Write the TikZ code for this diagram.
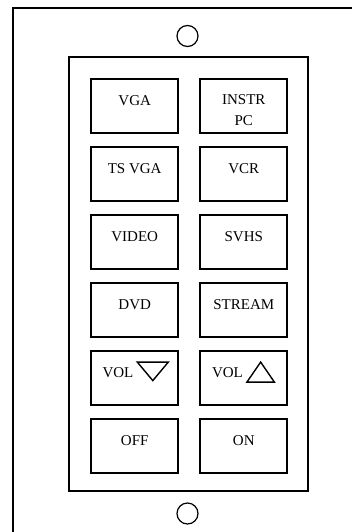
\documentclass[tikz,border=0pt]{standalone}
\usepackage{fontspec}
\setmainfont{Liberation Serif}
\begin{document}
\begin{tikzpicture}[x=1pt,y=-1pt,
  btn/.style={draw=black,line width=1.8pt,minimum width=87pt,minimum height=54pt,inner sep=0pt},
  lbl/.style={font=\fontsize{15}{21}\selectfont,inner sep=0pt,anchor=base},
  hole/.style={draw=black,line width=1.2pt},
  tri/.style={draw=black,line width=1.4pt,line join=miter}]
\useasboundingbox (0,0) rectangle (352,532);
\clip (0,0) rectangle (352,532);
\fill[white] (0,0) rectangle (352,532);
% outer plate
\draw[line width=2pt] (13.3,560) -- (13.3,8.5) -- (380,8.5);
% mounting holes
\draw[hole] (187.5,36) circle (10.5);
\draw[hole] (187.5,513.5) circle (10.5);
% inner frame
\draw[line width=2pt] (68.5,57.5) rectangle (307.5,490.5);
% buttons
\foreach \n/\cx/\top in {b1/134.7/78.5, b2/243.8/78.5,
                          b3/134.7/146.5, b4/243.8/146.5,
                          b5/134.7/214.5, b6/243.8/214.5,
                          b7/134.7/282.5, b8/243.8/282.5,
                          b9/134.7/350.5, b10/243.8/350.5,
                          b11/134.7/418.5, b12/243.8/418.5}
  {\node[btn] (\n) at (\cx,\top+27.5) {};}
% labels
\node[lbl] (t1) at ([yshift=-27.5pt]b1.north) {VGA};
\node[lbl,anchor=north,align=center] (t2) at ([yshift=-16pt]b2.north) {INSTR\\PC};
\node[lbl] (t3) at ([yshift=-27pt]b3.north) {TS VGA};
\node[lbl] (t4) at ([yshift=-27pt]b4.north) {VCR};
\node[lbl] (t5) at ([yshift=-27pt]b5.north) {VIDEO};
\node[lbl] (t6) at ([yshift=-27pt]b6.north) {SVHS};
\node[lbl] (t7) at ([yshift=-27pt]b7.north) {DVD};
\node[lbl] (t8) at ([yshift=-27pt]b8.north) {STREAM};
\node[lbl,anchor=base west] (t9) at ([xshift=12pt,yshift=-27.5pt]b9.north west) {VOL};
\node[lbl,anchor=base west] (t10) at ([xshift=12.4pt,yshift=-27.5pt]b10.north west) {VOL};
\node[lbl] (t11) at ([yshift=-27.5pt]b11.north) {OFF};
\node[lbl] (t12) at ([yshift=-27.5pt]b12.north) {ON};
% volume triangles
\draw[tri] ([xshift=47pt,yshift=-12pt]b9.north west) -- ([xshift=78pt,yshift=-12pt]b9.north west)
  -- ([xshift=62.5pt,yshift=-30.5pt]b9.north west) -- cycle;
\draw[tri] ([xshift=47.5pt,yshift=-32pt]b10.north west) -- ([xshift=75pt,yshift=-32pt]b10.north west)
  -- ([xshift=61.25pt,yshift=-12pt]b10.north west) -- cycle;
\end{tikzpicture}
\end{document}
